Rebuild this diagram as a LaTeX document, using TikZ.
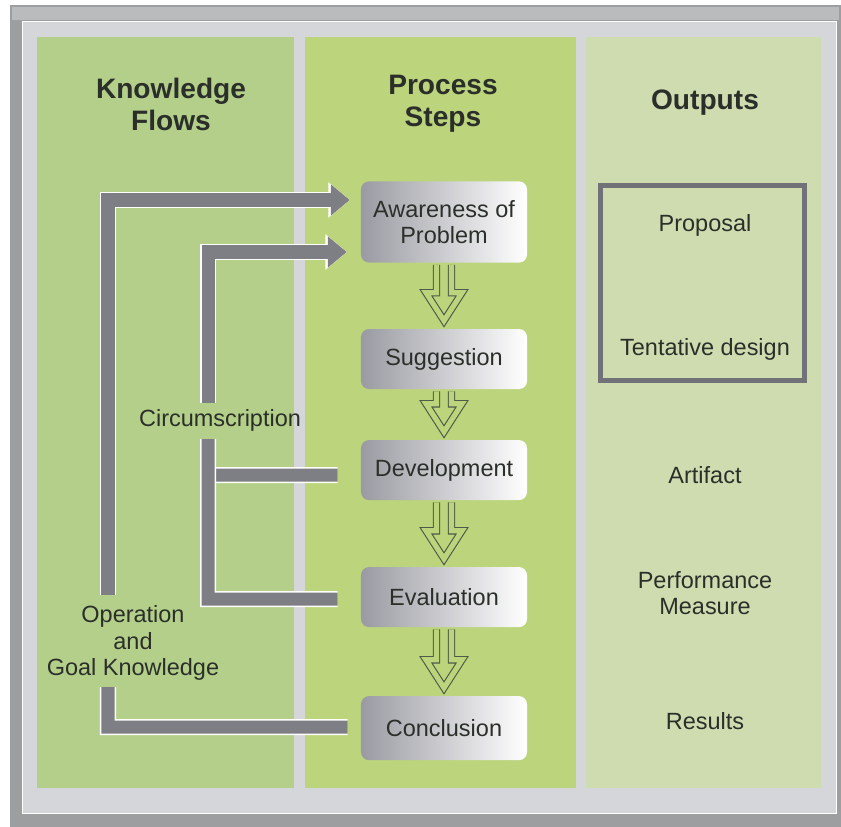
\documentclass[tikz,border=0pt]{standalone}
\usepackage{fontspec}
\setmainfont{Liberation Sans}
\usepackage{tikz}
\usetikzlibrary{arrows.meta,calc,positioning}
\definecolor{framedark}{HTML}{9C9EA0}
\definecolor{framelight}{HTML}{D5D6D9}
\definecolor{kfcol}{HTML}{B3CF8A}
\definecolor{pscol}{HTML}{BCD47B}
\definecolor{outcol}{HTML}{CEDCB0}
\definecolor{flowgrey}{HTML}{7E7F84}
\definecolor{boxgrey}{HTML}{9A9BA2}
\definecolor{stepline}{HTML}{4E5A48}
\definecolor{txt}{HTML}{2B2F2A}
\tikzset{%
	header/.style   = {text=txt, align=center, font=\fontsize{20}{22.7}\selectfont\bfseries},
	label/.style    = {text=txt, align=center, font=\fontsize{16.7}{19}\selectfont},
	stepbox/.style  = {label, rectangle, rounded corners=0.2cm, left color=boxgrey, right color=white, minimum width=4.15cm, minimum height=1.5cm, inner sep=0pt},
	flow/.style     = {draw=flowgrey, line width=0.325cm, line join=miter, preaction={draw=white, line width=0.4cm}},
	flowtip/.style  = {flow, -{Triangle[length=0.47cm,width=0.75cm]}, preaction={draw=white, line width=0.4cm, -{Triangle[length=0.53cm,width=0.85cm]}}},
	stepflow/.style = {draw=stepline, line width=0.8pt, double=pscol, double distance=0.13cm, line join=miter},
}
% hollow down arrow from one step to the next
\newcommand{\stepdown}[2]{%
	\draw[stepflow] ($(#1.south)+(-7.5,2)$) -- ($(#2.north)+(-7.5,-36)$) -- ($(#2.north)+(-18,-36)$)
		-- ($(#2.north)+(0,-8)$) -- ($(#2.north)+(18,-36)$) -- ($(#2.north)+(7.5,-36)$) -- ($(#1.south)+(7.5,2)$);}

\begin{document}
\begin{tikzpicture}[x=0.025cm,y=-0.025cm,node distance=3cm]
	\useasboundingbox (0,0) rectangle (841,827);
	% frame and columns
	\fill[white] (0,0) rectangle (841,827);
	\fill[framedark] (10,5) rectangle (841,827);
	\fill[framedark!70!white] (12,7) rectangle (839,20);
	\filldraw[framelight, draw=white, line width=0.6pt] (22,21) rectangle (836,813);
	\fill[kfcol] (37,37) rectangle (294,788);
	\fill[pscol] (305,37) rectangle (576,788);
	\fill[outcol] (586,37) rectangle (821,788);

	\node [header] (kf) at (171,104) {Knowledge\\Flows};
	\node [header] (ps) at (443,104) {Process\\Steps};
	\node [header] (out) at (705,103) {Outputs};

	% process steps
	\node [stepbox, minimum height=2.03cm] (aware) at (444,222) {Awareness of\\Problem};
	\node [stepbox] (sugg) [below of=aware, node distance=3.425cm] {Suggestion};
	\node [stepbox] (dev) [below of=sugg, node distance=2.775cm] {Development};
	\node [stepbox] (eval) [below of=dev, node distance=3.175cm] {Evaluation};
	\node [stepbox, minimum height=1.6cm] (concl) [below of=eval, node distance=3.275cm] {Conclusion};

	\stepdown{aware}{sugg}
	\stepdown{sugg}{dev}
	\stepdown{dev}{eval}
	\stepdown{eval}{concl}

	% outputs
	\draw[flowgrey!90!black, line width=0.125cm] (600.5,185.5) rectangle (804.5,380.5);
	\node [label] (prop) at (705,225) {Proposal};
	\node [label] (tent) at (705,349) {Tentative design};
	\node [label] (art) at (705,475) {Artifact};
	\node [label] (perf) at (705,593) {Performance\\Measure};
	\node [label] (res) at (705,721) {Results};

	% knowledge flows
	\node [label] (circ) at (220,420) {Circumscription};
	\node [label] (opknow) at (133,643) {Operation\\and\\Goal Knowledge};
	\coordinate (ia) at (208,252);
	\coordinate (ib) at (208,403);
	\coordinate (ic) at (208,439);
	\coordinate (id) at (208,599);
	\coordinate (oa) at (108,200);
	\coordinate (ob) at (108,595);
	\coordinate (oc) at (108,687);
	\coordinate (od) at (108,727);

	\draw[flow] ($(dev.west)+(-23,5)$) -- (208,475);
	\draw[flow] ($(eval.west)+(-23,2)$) -- (id) -- (ic);
	\draw[flowtip] (ib) -- (ia) -- ($(aware.west)+(-14,30)$);
	\draw[flow] ($(concl.west)+(-13,-1)$) -- (od) -- (oc);
	\draw[flowtip] (ob) -- (oa) -- ($(aware.west)+(-11,-22)$);
\end{tikzpicture}
\end{document}
